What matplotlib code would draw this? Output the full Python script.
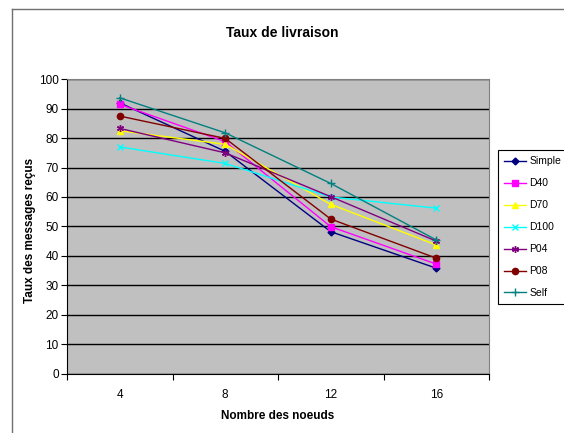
import matplotlib.pyplot as plt
from matplotlib.lines import Line2D

plt.rcParams['font.family'] = ['Liberation Sans', 'DejaVu Sans']

# donnees
noeuds = ["4", "8", "12", "16"]
simple = [92, 75.5, 48.2, 35.8]
d40 = [91.5, 78.8, 49.9, 37.2]
d70 = [82.5, 77.9, 57.5, 43.7]
d100 = [77, 71.4, 60, 56.2]
p04 = [83.3, 75, 60.1, 45]
p08 = [87.5, 79.9, 52.5, 39.2]
self_ = [93.7, 81.8, 64.6, 45.4]

series = [
    ("Simple", simple, "#000080", "D", 3.5),
    ("D40", d40, "#FF00FF", "s", 4.5),
    ("D70", d70, "#FFFF00", "^", 4.5),
    ("D100", d100, "#00FFFF", "x", 4.5),
    ("P04", p04, "#800080", (6, 2, 0), 5),
    ("P08", p08, "#800000", "o", 4.5),
    ("Self", self_, "#008080", "+", 6),
]

W, H = 564, 433
fig = plt.figure(figsize=(W / 100, H / 100), dpi=100)
fig.patch.set_facecolor("white")

# cadre exterieur du graphique
fig.add_artist(Line2D([12 / W, 1], [1 - 9 / H, 1 - 9 / H], color="#707070", lw=1, transform=fig.transFigure))
fig.add_artist(Line2D([12 / W, 12 / W], [0, 1 - 9 / H], color="#707070", lw=1, transform=fig.transFigure))

ax = fig.add_axes([67 / W, 1 - 373.5 / H, (489 - 67) / W, (373.5 - 79.3) / H])
ax.set_facecolor("#C0C0C0")

xs = [i + 0.5 for i in range(len(noeuds))]
for name, vals, col, mk, ms in series:
    ax.plot(xs, vals, color=col, marker=mk, markersize=ms, lw=1,
            markeredgecolor=col, markerfacecolor=col, label=name)

ax.set_xlim(0, len(noeuds))
ax.set_ylim(0, 100)
ax.set_yticks(range(0, 101, 10))
ax.yaxis.grid(True, color="black", lw=1)
ax.set_axisbelow(True)

ax.set_xticks(range(len(noeuds) + 1))
ax.set_xticklabels([])
ax.set_xticks(xs, minor=True)
ax.set_xticklabels(noeuds, minor=True)
ax.tick_params(axis="x", which="major", length=4, color="black", direction="out")
ax.tick_params(axis="x", which="minor", length=0, pad=11, labelsize=8.5)
ax.tick_params(axis="y", length=4, pad=2, labelsize=8.5, direction="out")

for s in ["top", "right"]:
    ax.spines[s].set_color("#808080")
for s in ["left", "bottom"]:
    ax.spines[s].set_color("black")

fig.text(282 / W, 1 - 33 / H, "Taux de livraison", ha="center", va="center",
         fontsize=10, fontweight="bold")
fig.text(278 / W, 1 - 416 / H, "Nombre des noeuds", ha="center", va="center",
         fontsize=8.5, fontweight="bold")
fig.text(30 / W, 1 - 230 / H, "Taux des messages reçus", ha="center", va="center",
         rotation=90, fontsize=8.5, fontweight="bold")

leg = ax.legend(loc="upper left", bbox_to_anchor=(498 / W, 1 - 150 / H),
                bbox_transform=fig.transFigure, borderaxespad=0, fancybox=False,
                edgecolor="black", fontsize=7.5, labelspacing=1.15,
                handlelength=2.1, handletextpad=0.3, borderpad=0.6, framealpha=1)
leg.get_frame().set_linewidth(0.8)

fig.savefig("out.png", dpi=100)
